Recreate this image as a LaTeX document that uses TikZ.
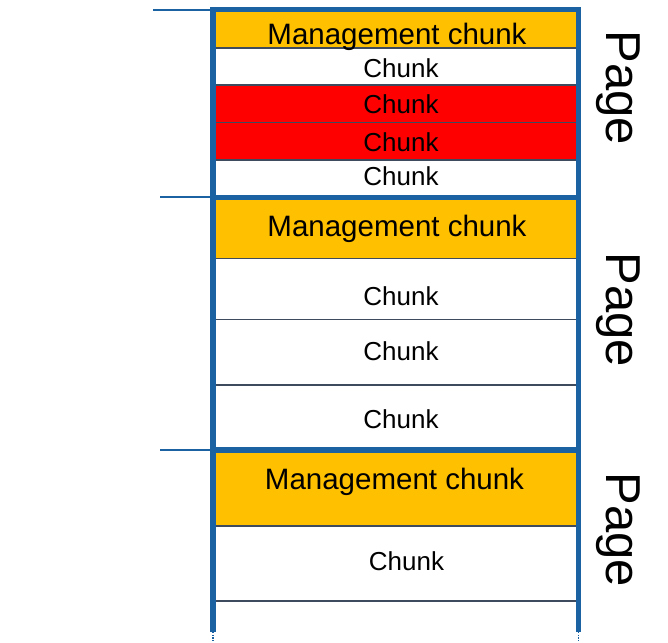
\documentclass[tikz,border=0pt]{standalone}
\usepackage{fontspec}
\setmainfont{Liberation Sans}
\definecolor{mgorange}{HTML}{FFC000}
\definecolor{chred}{HTML}{FF0000}
\definecolor{frameblue}{HTML}{1B62A2}
\definecolor{divgray}{HTML}{3E4B5E}
\tikzset{
  frameline/.style={draw=frameblue, line width=5.5pt},
  tickline/.style={draw=frameblue, line width=2.5pt},
  divline/.style={draw=divgray, line width=1.3pt},
  mgtext/.style={anchor=base, font=\fontsize{29.5}{30}\selectfont, inner sep=0pt},
  chtext/.style={anchor=base, font=\fontsize{26}{27}\selectfont, inner sep=0pt},
  pagetext/.style={anchor=base, rotate=-90, font=\fontsize{49}{50}\selectfont, inner sep=0pt},
  dotline/.style={draw=frameblue, line width=1.2pt, dash pattern=on 1.2pt off 1.5pt}
}
\begin{document}
\begin{tikzpicture}[x=1pt,y=-1pt]
\useasboundingbox (0,0) rectangle (668,642);
% fills
\fill[mgorange] (215,10) rectangle (578,48);
\fill[chred] (215,85) rectangle (578,160);
\fill[mgorange] (215,200) rectangle (578,258.5);
\fill[mgorange] (215,452) rectangle (578,526);
% dividers
\foreach \yy in {48,85,122.7,160,258.5,319.3,385,526,601}
  \draw[divline] (213,\yy) -- (578,\yy);
% frame
\coordinate (tl) at (213,7);
\coordinate (tr) at (578.5,7);
\coordinate (bl) at (213,632);
\coordinate (br) at (578.5,632);
\draw[frameline] (210.5,9.5) -- (581,9.5);
\draw[frameline] (210.5,197.5) -- (581,197.5);
\draw[frameline] (210.5,450) -- (581,450);
\draw[frameline] (tl) -- (bl);
\draw[frameline] (tr) -- (br);
\draw[dotline] (bl) -- ++(0,10);
\draw[dotline] (br) -- ++(0,10);
% ticks
\draw[tickline] (153,10) -- (213,10);
\draw[tickline] (160,197) -- (213,197);
\draw[tickline] (160,450) -- (213,450);
% texts
\node[mgtext] (m1) at (397,45) {Management chunk};
\node[chtext] (c11) at (401,77) {Chunk};
\node[chtext] (c12) at (401,113) {Chunk};
\node[chtext] (c13) at (401,151) {Chunk};
\node[chtext] (c14) at (401,185) {Chunk};
\node[mgtext] (m2) at (397,236) {Management chunk};
\node[chtext] (c21) at (401,305) {Chunk};
\node[chtext] (c22) at (401,360) {Chunk};
\node[chtext] (c23) at (401,428) {Chunk};
\node[mgtext] (m3) at (394.5,489) {Management chunk};
\node[chtext] (c31) at (406.5,570) {Chunk};
\node[pagetext] (p1) at (606,88) {Page};
\node[pagetext] (p2) at (606,310) {Page};
\node[pagetext] (p3) at (606,530) {Page};
\end{tikzpicture}
\end{document}
